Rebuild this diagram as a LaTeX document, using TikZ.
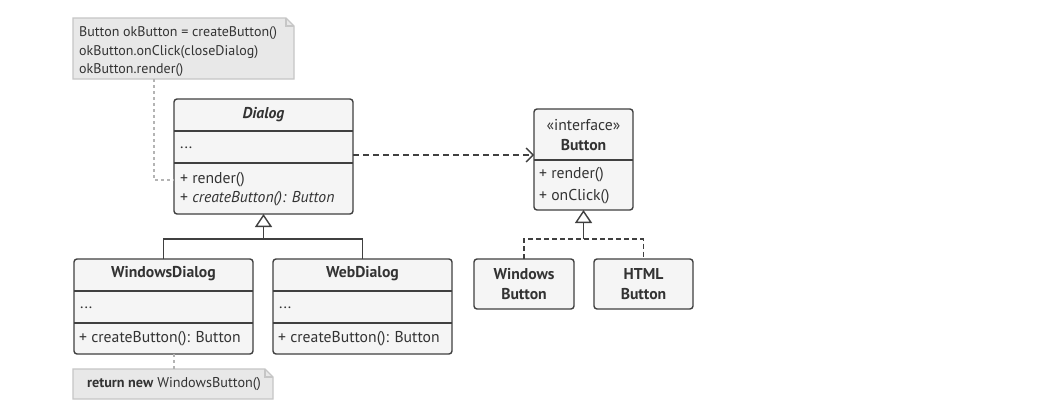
\documentclass[tikz,border=0pt]{standalone}
\usepackage{fontspec}
\setmainfont{PT Sans}
\usetikzlibrary{arrows.meta,calc}
\definecolor{bordc}{HTML}{404040}
\definecolor{boxc}{HTML}{F5F5F5}
\definecolor{notefill}{HTML}{E8E8E8}
\definecolor{notebd}{HTML}{C6C6C6}
\definecolor{dotc}{HTML}{B4B4B4}
\definecolor{txtc}{HTML}{333333}
\begin{document}
\begin{tikzpicture}[x=1pt,y=-1pt,
  cls/.style={draw=bordc, fill=boxc, line width=1.4pt, rounded corners=3pt, inner sep=0pt, outer sep=0pt, anchor=north west},
  divl/.style={draw=bordc, line width=1.4pt},
  ttl/.style={font=\fontsize{15.7}{18}\selectfont\bfseries, text=txtc, inner sep=0pt},
  mem/.style={font=\fontsize{15.7}{18}\selectfont, text=txtc, inner sep=0pt, anchor=west},
  conn/.style={draw=bordc, line width=1.4pt},
  notebox/.style={fill=notefill, draw=notebd, line width=1.2pt},
  notetxt/.style={font=\fontsize{14}{18.5}\selectfont, text=txtc, inner sep=0pt, align=left},
  dotl/.style={draw=dotc, line width=1.2pt, dash pattern=on 3pt off 3pt},
  gen/.style={-{Triangle[open, length=13pt, width=17pt, fill=white, line width=1.4pt]}},
  dep/.style={dash pattern=on 6pt off 4pt, -{Straight Barb[length=7pt, width=14pt, line width=1.4pt]}}
]
\useasboundingbox (0,0) rectangle (1058,407);
\fill[white] (0,0) rectangle (1058,407);

% ---------- note 1 ----------
\path[notebox] (73,18) -- (286,18) -- (294,26) -- (294,79) -- (73,79) -- cycle;
\draw[notebd, line width=1.2pt] (286,18) -- (286,26) -- (294,26);
\node[notetxt, anchor=north west] (n1) at (79,26.5) {Button okButton = createButton()\\okButton.onClick(closeDialog)\\okButton.render()};
\coordinate (n1b) at (154,79);

% ---------- Dialog ----------
\node[cls, minimum width=179pt, minimum height=115pt] (dialog) at (174,99) {};
\draw[divl] (174,131) -- (353,131);
\draw[divl] (174,163) -- (353,163);
\node[ttl, font=\fontsize{15.7}{18}\selectfont\bfseries\itshape] (dialogT) at (263.5,115) {Dialog};
\node[mem] (dialogA) at (180,148) {...};
\node[mem] (dialogM1) at (180,180) {+ render()};
\node[mem] (dialogM2) at (180,198.5) {+ \textit{createButton(): Button}};

% note 1 connector
\coordinate (n1c) at (154,180);
\draw[dotl] (n1b) -- (n1c) -- (dialog.west |- n1c);

% ---------- Button interface ----------
\node[cls, minimum width=99pt, minimum height=101pt] (button) at (534,109) {};
\draw[divl] (534,160) -- (633,160);
\node[mem, anchor=center] (buttonS) at (583.5,125) {«interface»};
\node[ttl] (buttonT) at (583.5,145) {Button};
\node[mem] (buttonM1) at (539,175) {+ render()};
\node[mem] (buttonM2) at (539,197) {+ onClick()};

% dependency
\draw[conn, dep] (353,155) -- (button.west |- 0,155);

% ---------- subclasses ----------
\node[cls, minimum width=179pt, minimum height=95pt] (windlg) at (74,259) {};
\draw[divl] (74,291) -- (253,291);
\draw[divl] (74,323) -- (253,323);
\node[ttl] (windlgT) at (163.5,274) {WindowsDialog};
\node[mem] (windlgA) at (80,308) {...};
\node[mem] (windlgM) at (79,339) {+ createButton(): Button};

\node[cls, minimum width=179pt, minimum height=95pt] (webdlg) at (273,259) {};
\draw[divl] (273,291) -- (452,291);
\draw[divl] (273,323) -- (452,323);
\node[ttl] (webdlgT) at (362.5,274) {WebDialog};
\node[mem] (webdlgA) at (279,308) {...};
\node[mem] (webdlgM) at (278,339) {+ createButton(): Button};

\coordinate (j1) at (263.5,239);
\draw[conn] (windlg.north) |- (j1) -| (webdlg.north);
\draw[conn, gen] (j1) -- (dialog.south);

% ---------- note 2 ----------
\path[notebox] (73,369) -- (265,369) -- (273,377) -- (273,399) -- (73,399) -- cycle;
\draw[notebd, line width=1.2pt] (265,369) -- (265,377) -- (273,377);
\node[notetxt, font=\fontsize{14.2}{16}\selectfont] (n2) at (174,384) {\textbf{return new} WindowsButton()};
\coordinate (n2t) at (174,369);
\draw[dotl] (n2t |- windlg.south) -- (n2t);

% ---------- concrete buttons ----------
\node[cls, minimum width=100pt, minimum height=50pt] (winbtn) at (474,259) {};
\node[ttl, align=center, font=\fontsize{15.7}{20}\selectfont\bfseries] (winbtnT) at (winbtn.center) {Windows\\Button};
\node[cls, minimum width=99pt, minimum height=50pt] (htmlbtn) at (594,259) {};
\node[ttl, align=center, font=\fontsize{15.7}{20}\selectfont\bfseries] (htmlbtnT) at (htmlbtn.center) {HTML\\Button};

\coordinate (j2) at (583.5,239);
\draw[conn, dash pattern=on 5pt off 3pt] (winbtn.north) |- (j2) -| (htmlbtn.north);
\draw[conn, gen] (j2) -- (button.south);
\end{tikzpicture}
\end{document}
